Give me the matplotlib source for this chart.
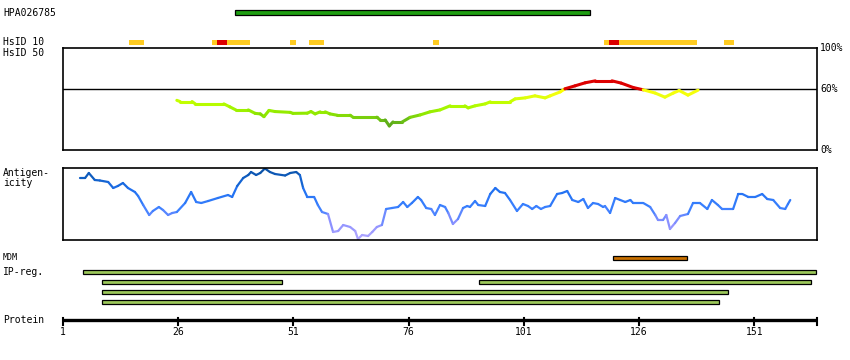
import numpy as np
import matplotlib
matplotlib.use('Agg')
from matplotlib import pyplot as plt
from matplotlib.collections import LineCollection
from matplotlib.colors import LinearSegmentedColormap, Normalize

plt.rcParams['font.family'] = ['DejaVu Sans Mono']

protein_end = 164.6
tick_residues = [1, 26, 51, 76, 101, 126, 151]

antibody_name = 'HPA026785'
antibody_span = (38.3, 115.3)

# HsID 10 track: (start, end, level) level 1 = orange, 2 = red
hsid10_start = [15.3, 33.3, 34.4, 36.6, 50.3, 54.4, 81.3, 118.4, 119.5, 121.7, 144.4]
hsid10_end = [18.6, 34.4, 36.6, 41.6, 51.6, 57.6, 82.6, 119.5, 121.7, 138.6, 146.6]
hsid10_level = [1, 1, 2, 1, 1, 1, 1, 1, 2, 1, 1]

# HsID 50 identity curve (%)
ident_res = [25.7, 26.4, 29.0, 29.7, 35.9, 37.2, 38.5, 41.2, 42.7, 43.8, 44.6, 45.7,
             47.0, 50.3, 50.9, 54.0, 54.8, 55.7, 56.8, 57.9, 58.9, 60.5, 63.3, 63.9,
             69.1, 69.8, 70.9, 71.8, 72.6, 74.6, 76.3, 78.5, 80.6, 82.8, 85.0, 88.2,
             88.9, 90.4, 92.6, 93.7, 98.0, 99.1, 101.3, 103.4, 105.6, 106.7, 108.9,
             109.9, 112.1, 114.3, 116.5, 120.1, 122.1, 124.7, 126.9, 129.5, 131.6,
             133.4, 134.7, 136.6, 138.8]
ident_pct = [48.7, 47.5, 47.5, 45.2, 45.2, 42.3, 39.3, 39.3, 35.9, 35.4, 32.7, 38.8,
             37.7, 36.9, 35.9, 36.1, 37.7, 35.4, 37.4, 37.4, 35.4, 34.1, 34.1, 32.2,
             32.2, 29.5, 29.5, 23.6, 27.5, 27.5, 32.0, 34.4, 37.4, 39.3, 43.3, 43.3,
             41.3, 43.3, 45.2, 47.2, 47.2, 50.1, 51.1, 53.1, 51.1, 53.1, 57.0,
             60.0, 62.9, 65.9, 67.8, 67.8, 65.6, 61.3, 59.0, 55.8, 51.8,
             55.8, 58.3, 53.8, 58.7]

# antigenicity profile (relative score)
antigen_res = [4.7, 5.8, 6.6, 7.9, 9.0, 10.8, 11.9, 12.9, 14.0, 15.1, 16.6, 17.3, 18.4,
               19.7, 20.5, 21.8, 22.7, 23.8, 24.7, 25.7, 27.5, 28.8, 29.9, 31.0, 32.5,
               34.6, 36.8, 37.7, 38.8, 40.1, 41.2, 41.8, 42.9, 43.8, 44.8, 45.9, 47.0,
               49.2, 50.3, 51.6, 52.4, 53.1, 54.0, 55.5, 56.3, 57.2, 58.5, 59.6, 60.7,
               61.8, 63.3, 64.4, 65.0, 65.9, 67.2, 68.1, 69.1, 70.2, 71.1, 72.4, 73.7,
               74.8, 75.7, 76.7, 78.0, 78.7, 79.8, 80.9, 81.7, 82.8, 83.9, 84.6, 85.6,
               86.7, 87.8, 88.7, 89.3, 90.4, 91.1, 92.6, 93.7, 94.8, 95.8, 96.9, 98.0,
               99.5, 100.8, 101.9, 102.8, 103.7, 104.7, 105.6, 106.7, 108.2, 109.3,
               110.4, 111.5, 112.8, 113.9, 114.9, 116.0, 117.1, 118.2, 118.6, 119.7,
               120.8, 121.9, 123.0, 124.1, 124.7, 126.9, 128.4, 129.5, 130.1, 131.2,
               131.9, 132.7, 133.8, 134.9, 136.6, 137.7, 139.2, 140.8, 141.8, 143.1,
               144.0, 146.4, 147.5, 148.4, 149.7, 151.2, 152.7, 153.8, 155.1, 156.6,
               157.7, 158.3, 158.8]
antigen_score = [62, 62, 67, 60, 59.5, 58, 52, 54, 57, 52, 48, 44, 35,
                 25, 29, 33, 30, 25, 27, 28, 37, 48, 38, 37, 39,
                 42, 45, 43, 54, 62, 65, 68, 65, 67, 71.5, 68, 66,
                 64.5, 67, 68, 65, 52, 43, 43, 35, 28, 26, 8, 9,
                 15, 13, 9, 1, 5, 4, 8, 13, 15, 31, 32, 33,
                 38, 33, 37, 43, 40, 32, 31, 25, 35, 33, 27, 16,
                 21, 32, 34, 33, 39, 35, 34, 46, 52, 48, 47, 40,
                 29, 36, 34, 31, 34, 31, 33, 34, 46, 47,
                 49, 40, 38, 41, 32, 37, 36, 33, 34, 27,
                 42, 40, 38, 40, 37, 37, 33, 25, 20, 20,
                 25, 11, 17, 24, 26, 37, 37, 31, 40, 35,
                 31, 31, 46, 46, 43, 43, 46, 41, 40, 32,
                 31, 36, 40]

mdm_span = (120.4, 136.5)

ipreg_start = [5.4, 9.4, 91.3, 9.4, 9.4]
ipreg_end = [164.5, 48.5, 163.4, 145.4, 143.4]
ipreg_row = [0, 1, 1, 2, 3]

px_per_res = 4.608
W, H = 850, 360

fig = plt.figure(figsize=(8.5, 3.6), dpi=100)

# background axes in residue units horizontally, pixel rows vertically
bg = fig.add_axes([0, 0, 1, 1])
bg.set_xlim(1 - 63 / px_per_res, 1 + (W - 63) / px_per_res)
bg.set_ylim(H, 0)
bg.axis('off')

fs = 7
bg.text(-12.0, 12.5, antibody_name, fontsize=fs, va='center', ha='left')
bg.text(-12.0, 42, 'HsID 10', fontsize=fs, va='center', ha='left')
bg.text(-12.0, 52.5, 'HsID 50', fontsize=fs, va='center', ha='left')
bg.text(-12.0, 173, 'Antigen-', fontsize=fs, va='center', ha='left')
bg.text(-12.0, 183, 'icity', fontsize=fs, va='center', ha='left')
bg.text(-12.0, 258, 'MDM', fontsize=6, va='center', ha='left')
bg.text(-12.0, 272, 'IP-reg.', fontsize=fs, va='center', ha='left')
bg.text(-12.0, 320, 'Protein', fontsize=fs, va='center', ha='left')

# antibody bar
bg.barh(12.7, antibody_span[1] - antibody_span[0], left=antibody_span[0], height=4.5,
        color='#1e9e12', edgecolor='black', linewidth=0.9)

# HsID 10
for s, e, lev in zip(hsid10_start, hsid10_end, hsid10_level):
    bg.barh(42.3, e - s, left=s, height=4.8, color='#dd0000' if lev == 2 else '#ffcc22',
            linewidth=0)

# MDM
bg.barh(258, mdm_span[1] - mdm_span[0], left=mdm_span[0], height=4.6,
        color='#c87000', edgecolor='black', linewidth=0.9)

# IP-reg
for s, e, row in zip(ipreg_start, ipreg_end, ipreg_row):
    bg.barh(272.3 + 10 * row, e - s, left=s, height=4.2, color='#9cc85a',
            edgecolor='black', linewidth=0.9)

# protein axis
bg.plot([1, protein_end], [319.5, 319.5], color='black', lw=2.4, solid_capstyle='butt')
for t in tick_residues + [protein_end]:
    bg.plot([t, t], [318, 325], color='black', lw=1.5)
for t in tick_residues:
    bg.text(t, 332, str(t), fontsize=fs, ha='center', va='center')

# identity panel
ax1 = fig.add_axes([63 / W, 1 - 150 / H, 754 / W, 102 / H])
ax1.set_facecolor('none')
ax1.set_xlim(1, protein_end)
ax1.set_ylim(0, 100)
ax1.set_xticks([])
ax1.set_yticks([])
for sp in ax1.spines.values():
    sp.set_linewidth(1.2)
ax1.axhline(60, color='black', lw=1.0)
for val, lab in [(100, '100%'), (60, '60%'), (0, '0%')]:
    ax1.text(1.004, val / 100, lab, transform=ax1.transAxes, fontsize=fs,
             ha='left', va='center')

ident_cmap = LinearSegmentedColormap.from_list(
    'ident', [(0.0, '#4a9020'), (0.25, '#6cc015'), (0.4, '#90e800'),
              (0.55, '#a8f800'), (0.7, '#c4ff00'), (0.85, '#eeff10'), (1.0, '#ffff00')])
x = np.array(ident_res)
y = np.array(ident_pct)
segs = np.stack([np.column_stack([x[:-1], y[:-1]]), np.column_stack([x[1:], y[1:]])], axis=1)
mid = (y[:-1] + y[1:]) / 2
cols = [ident_cmap(Normalize(20, 59.9)(m)) if m < 59.9 else '#dd0000' for m in mid]
ax1.add_collection(LineCollection(segs, colors=cols, linewidths=2.2, capstyle='round'))

# antigenicity panel
ax2 = fig.add_axes([63 / W, 1 - 240 / H, 754 / W, 72 / H])
ax2.set_facecolor('none')
ax2.set_xlim(1, protein_end)
ax2.set_ylim(0, 72)
ax2.set_xticks([])
ax2.set_yticks([])
for sp in ax2.spines.values():
    sp.set_linewidth(1.2)

ag_cmap = LinearSegmentedColormap.from_list(
    'ag', [(0.0, '#b4a8ff'), (0.25, '#8a90ff'), (0.45, '#3a80ff'),
           (0.7, '#2070f0'), (0.85, '#1060c8'), (1.0, '#0a4fa0')])
x = np.array(antigen_res)
y = np.array(antigen_score)
segs = np.stack([np.column_stack([x[:-1], y[:-1]]), np.column_stack([x[1:], y[1:]])], axis=1)
mid = (y[:-1] + y[1:]) / 2
ax2.add_collection(LineCollection(segs, colors=ag_cmap(Normalize(0, 72)(mid)),
                                  linewidths=1.6, capstyle='round'))

fig.savefig('out.png', dpi=100)
